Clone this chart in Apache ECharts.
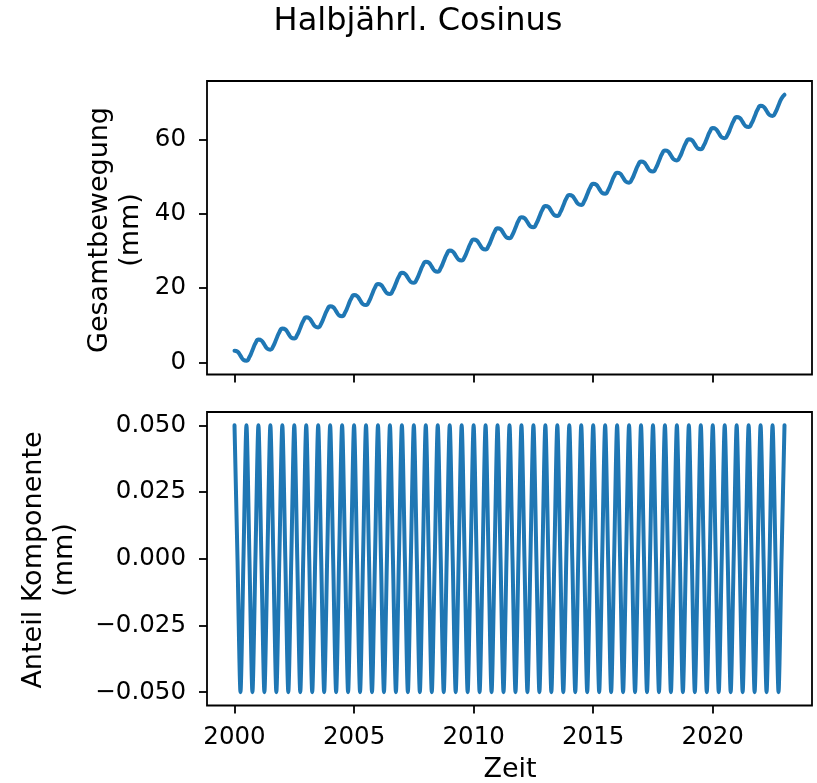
<!DOCTYPE html>
<html>
<head>
<meta charset="utf-8">
<script src="https://cdn.jsdelivr.net/npm/echarts@6/dist/echarts.min.js"></script>
<style>
  html, body { margin: 0; padding: 0; background: #fff; }
  #chart { width: 817px; height: 783px; }
</style>
</head>
<body>
<div id="chart"></div>
<script>
// Zeitpunkte (Jahre), 8 Stuetzstellen pro Jahr
var zeit = [
  2000, 2000.125, 2000.25, 2000.375, 2000.5, 2000.625, 2000.75, 2000.875,
  2001, 2001.125, 2001.25, 2001.375, 2001.5, 2001.625, 2001.75, 2001.875,
  2002, 2002.125, 2002.25, 2002.375, 2002.5, 2002.625, 2002.75, 2002.875,
  2003, 2003.125, 2003.25, 2003.375, 2003.5, 2003.625, 2003.75, 2003.875,
  2004, 2004.125, 2004.25, 2004.375, 2004.5, 2004.625, 2004.75, 2004.875,
  2005, 2005.125, 2005.25, 2005.375, 2005.5, 2005.625, 2005.75, 2005.875,
  2006, 2006.125, 2006.25, 2006.375, 2006.5, 2006.625, 2006.75, 2006.875,
  2007, 2007.125, 2007.25, 2007.375, 2007.5, 2007.625, 2007.75, 2007.875,
  2008, 2008.125, 2008.25, 2008.375, 2008.5, 2008.625, 2008.75, 2008.875,
  2009, 2009.125, 2009.25, 2009.375, 2009.5, 2009.625, 2009.75, 2009.875,
  2010, 2010.125, 2010.25, 2010.375, 2010.5, 2010.625, 2010.75, 2010.875,
  2011, 2011.125, 2011.25, 2011.375, 2011.5, 2011.625, 2011.75, 2011.875,
  2012, 2012.125, 2012.25, 2012.375, 2012.5, 2012.625, 2012.75, 2012.875,
  2013, 2013.125, 2013.25, 2013.375, 2013.5, 2013.625, 2013.75, 2013.875,
  2014, 2014.125, 2014.25, 2014.375, 2014.5, 2014.625, 2014.75, 2014.875,
  2015, 2015.125, 2015.25, 2015.375, 2015.5, 2015.625, 2015.75, 2015.875,
  2016, 2016.125, 2016.25, 2016.375, 2016.5, 2016.625, 2016.75, 2016.875,
  2017, 2017.125, 2017.25, 2017.375, 2017.5, 2017.625, 2017.75, 2017.875,
  2018, 2018.125, 2018.25, 2018.375, 2018.5, 2018.625, 2018.75, 2018.875,
  2019, 2019.125, 2019.25, 2019.375, 2019.5, 2019.625, 2019.75, 2019.875,
  2020, 2020.125, 2020.25, 2020.375, 2020.5, 2020.625, 2020.75, 2020.875,
  2021, 2021.125, 2021.25, 2021.375, 2021.5, 2021.625, 2021.75, 2021.875,
  2022, 2022.125, 2022.25, 2022.375, 2022.5, 2022.625, 2022.75, 2022.875,
  2023
];

// Gesamtbewegung (mm)
var gesamt = [
  3.1, 2.86, 1.75, 0.64, 0.4, 1.39, 3.25, 5.11,
  6.1, 5.86, 4.75, 3.64, 3.4, 4.39, 6.25, 8.11,
  9.1, 8.86, 7.75, 6.64, 6.4, 7.39, 9.25, 11.11,
  12.1, 11.86, 10.75, 9.64, 9.4, 10.39, 12.25, 14.11,
  15.1, 14.86, 13.75, 12.64, 12.4, 13.39, 15.25, 17.11,
  18.1, 17.86, 16.75, 15.64, 15.4, 16.39, 18.25, 20.11,
  21.1, 20.86, 19.75, 18.64, 18.4, 19.39, 21.25, 23.11,
  24.1, 23.86, 22.75, 21.64, 21.4, 22.39, 24.25, 26.11,
  27.1, 26.86, 25.75, 24.64, 24.4, 25.39, 27.25, 29.11,
  30.1, 29.86, 28.75, 27.64, 27.4, 28.39, 30.25, 32.11,
  33.1, 32.86, 31.75, 30.64, 30.4, 31.39, 33.25, 35.11,
  36.1, 35.86, 34.75, 33.64, 33.4, 34.39, 36.25, 38.11,
  39.1, 38.86, 37.75, 36.64, 36.4, 37.39, 39.25, 41.11,
  42.1, 41.86, 40.75, 39.64, 39.4, 40.39, 42.25, 44.11,
  45.1, 44.86, 43.75, 42.64, 42.4, 43.39, 45.25, 47.11,
  48.1, 47.86, 46.75, 45.64, 45.4, 46.39, 48.25, 50.11,
  51.1, 50.86, 49.75, 48.64, 48.4, 49.39, 51.25, 53.11,
  54.1, 53.86, 52.75, 51.64, 51.4, 52.39, 54.25, 56.11,
  57.1, 56.86, 55.75, 54.64, 54.4, 55.39, 57.25, 59.11,
  60.1, 59.86, 58.75, 57.64, 57.4, 58.39, 60.25, 62.11,
  63.1, 62.86, 61.75, 60.64, 60.4, 61.39, 63.25, 65.11,
  66.1, 65.86, 64.75, 63.64, 63.4, 64.39, 66.25, 68.11,
  69.1, 68.86, 67.75, 66.64, 66.4, 67.39, 69.25, 71.11,
  72.1
];

// Anteil halbjaehrliche Komponente (mm)
var anteil = [
  0.05, 0, -0.05, 0, 0.05, 0, -0.05, 0,
  0.05, 0, -0.05, 0, 0.05, 0, -0.05, 0,
  0.05, 0, -0.05, 0, 0.05, 0, -0.05, 0,
  0.05, 0, -0.05, 0, 0.05, 0, -0.05, 0,
  0.05, 0, -0.05, 0, 0.05, 0, -0.05, 0,
  0.05, 0, -0.05, 0, 0.05, 0, -0.05, 0,
  0.05, 0, -0.05, 0, 0.05, 0, -0.05, 0,
  0.05, 0, -0.05, 0, 0.05, 0, -0.05, 0,
  0.05, 0, -0.05, 0, 0.05, 0, -0.05, 0,
  0.05, 0, -0.05, 0, 0.05, 0, -0.05, 0,
  0.05, 0, -0.05, 0, 0.05, 0, -0.05, 0,
  0.05, 0, -0.05, 0, 0.05, 0, -0.05, 0,
  0.05, 0, -0.05, 0, 0.05, 0, -0.05, 0,
  0.05, 0, -0.05, 0, 0.05, 0, -0.05, 0,
  0.05, 0, -0.05, 0, 0.05, 0, -0.05, 0,
  0.05, 0, -0.05, 0, 0.05, 0, -0.05, 0,
  0.05, 0, -0.05, 0, 0.05, 0, -0.05, 0,
  0.05, 0, -0.05, 0, 0.05, 0, -0.05, 0,
  0.05, 0, -0.05, 0, 0.05, 0, -0.05, 0,
  0.05, 0, -0.05, 0, 0.05, 0, -0.05, 0,
  0.05, 0, -0.05, 0, 0.05, 0, -0.05, 0,
  0.05, 0, -0.05, 0, 0.05, 0, -0.05, 0,
  0.05, 0, -0.05, 0, 0.05, 0, -0.05, 0,
  0.05
];

var xTicks = [2000, 2005, 2010, 2015, 2020];
var yTicksOben = [0, 20, 40, 60];
var yTicksUnten = [-0.05, -0.025, 0, 0.025, 0.05];

var FONT = 'DejaVu Sans';
var blau = '#1f77b4';

function paare(xs, ys) {
  var out = [];
  for (var i = 0; i < xs.length; i++) out.push([xs[i], ys[i]]);
  return out;
}

function minusZeichen(s) {
  return String(s).replace('-', '\u2212');
}

var achsLinie = { show: false, onZero: false };
var tick = { show: true, length: 8, lineStyle: { color: '#000', width: 1.8 } };
var label = { color: '#000', fontFamily: FONT, fontSize: 24.5 };

var chart = echarts.init(document.getElementById('chart'));

option = {
  animation: false,
  backgroundColor: '#fff',
  grid: [
    { left: 207, top: 81, width: 605, height: 293.5, show: true, borderColor: '#000', borderWidth: 1.8, containLabel: false },
    { left: 207, top: 412, width: 605, height: 293.5, show: true, borderColor: '#000', borderWidth: 1.8, containLabel: false }
  ],
  xAxis: [
    {
      type: 'value', gridIndex: 0, min: 1998.85, max: 2024.15, position: 'bottom',
      axisLine: achsLinie, splitLine: { show: false },
      axisTick: Object.assign({ customValues: xTicks }, tick),
      axisLabel: { show: false }
    },
    {
      type: 'value', gridIndex: 1, min: 1998.85, max: 2024.15, position: 'bottom',
      axisLine: achsLinie, splitLine: { show: false },
      axisTick: Object.assign({ customValues: xTicks }, tick),
      axisLabel: Object.assign({ customValues: xTicks, margin: 20, formatter: function (v) { return String(v); } }, label)
    }
  ],
  yAxis: [
    {
      type: 'value', gridIndex: 0, min: -3.3, max: 75.8, position: 'left',
      axisLine: achsLinie, splitLine: { show: false },
      axisTick: Object.assign({ customValues: yTicksOben }, tick),
      axisLabel: Object.assign({ customValues: yTicksOben, margin: 21, formatter: function (v) { return minusZeichen(v); } }, label)
    },
    {
      type: 'value', gridIndex: 1, min: -0.055, max: 0.055, position: 'left',
      axisLine: achsLinie, splitLine: { show: false },
      axisTick: Object.assign({ customValues: yTicksUnten }, tick),
      axisLabel: Object.assign({
        customValues: yTicksUnten, margin: 21,
        formatter: function (v) { return minusZeichen(v.toFixed(3)).replace('\u22120.000', '0.000'); }
      }, label)
    }
  ],
  graphic: [
    {
      type: 'text', x: 418, y: 22,
      style: { text: 'Halbjährl. Cosinus', fontFamily: FONT, fontSize: 32, fill: '#000', textAlign: 'center', textVerticalAlign: 'middle' }
    },
    {
      type: 'text', x: 115, y: 230, rotation: Math.PI / 2,
      style: { text: 'Gesamtbewegung\n(mm)', fontFamily: FONT, fontSize: 27, lineHeight: 31, fill: '#000', textAlign: 'center', textVerticalAlign: 'middle' }
    },
    {
      type: 'text', x: 49, y: 560, rotation: Math.PI / 2,
      style: { text: 'Anteil Komponente\n(mm)', fontFamily: FONT, fontSize: 27, lineHeight: 31, fill: '#000', textAlign: 'center', textVerticalAlign: 'middle' }
    },
    {
      type: 'text', x: 510, y: 770,
      style: { text: 'Zeit', fontFamily: FONT, fontSize: 27, fill: '#000', textAlign: 'center', textVerticalAlign: 'middle' }
    }
  ],
  series: [
    {
      type: 'line', xAxisIndex: 0, yAxisIndex: 0,
      data: paare(zeit, gesamt),
      showSymbol: false, smooth: true,
      lineStyle: { color: blau, width: 4, cap: 'round', join: 'round' }
    },
    {
      type: 'line', xAxisIndex: 1, yAxisIndex: 1,
      data: paare(zeit, anteil),
      showSymbol: false, smooth: 0.25,
      lineStyle: { color: blau, width: 4, cap: 'round', join: 'round' }
    }
  ]
};

chart.setOption(option);
</script>
</body>
</html>
